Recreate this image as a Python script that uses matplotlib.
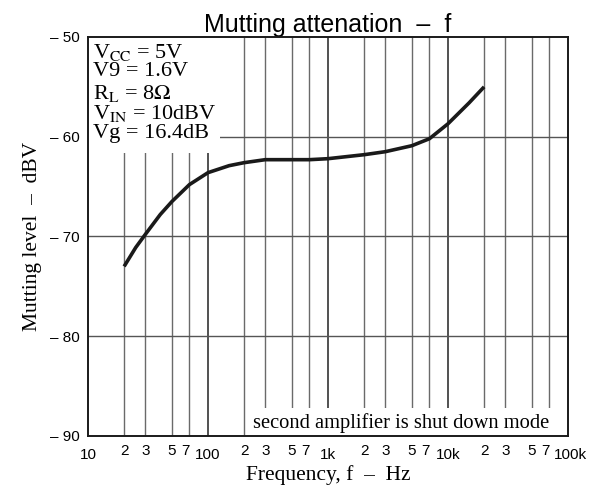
import matplotlib
matplotlib.use("Agg")
import matplotlib.pyplot as plt
import matplotlib.transforms as mtransforms
from matplotlib.patches import Rectangle

# Mutting level vs frequency
freq = [20, 25, 30, 40, 50, 70, 100, 150, 200, 300, 500, 700,
        1000, 2000, 3000, 5000, 7000, 10000, 15000, 20000]
level = [-73.0, -71.1, -69.8, -67.8, -66.5, -64.8, -63.6, -62.9, -62.6, -62.3,
         -62.3, -62.3, -62.2, -61.8, -61.5, -60.9, -60.2, -58.7, -56.6, -55.0]

decades = [10, 100, 1000, 10000, 100000]
decade_labels = ["10", "100", "1k", "10k", "100k"]
minor_steps = [2, 3, 5, 7]
y_ticks = [-90, -80, -70, -60, -50]

conditions = [r"V$_{\mathrm{CC}}$ = 5V", "V9 = 1.6V", r"R$_{\mathrm{L}}$ = 8$\Omega$",
              r"V$_{\mathrm{IN}}$ = 10dBV", "Vg = 16.4dB"]
note = "second amplifier is shut down mode"

plt.rcParams["font.family"] = ["Liberation Sans", "DejaVu Sans"]
plt.rcParams["mathtext.fontset"] = "stix"
serif = ["Liberation Serif", "DejaVu Serif"]

fig = plt.figure(figsize=(5.95, 4.88), dpi=100)
ax = fig.add_axes([0.1479, 0.1066, 0.8067, 0.8176])
ax.set_xscale("log")
ax.set_xlim(10, 100000)
ax.set_ylim(-90, -50)

# grid: decades a bit darker than the 2/3/5/7 lines
minor_pos = [d * m for d in decades[:-1] for m in minor_steps]
for x in decades[1:-1]:
    ax.axvline(x, color="#222222", lw=1.1, zorder=1)
for x in minor_pos:
    ax.axvline(x, color="#6a6a6a", lw=1.0, zorder=1)
for y in y_ticks[1:-1]:
    ax.axhline(y, color="#555555", lw=1.0, zorder=1)

# white areas behind the texts
ax.add_patch(Rectangle((10, -61.6), 115, 11.6, facecolor="white", edgecolor="none", zorder=2))
ax.add_patch(Rectangle((225, -90), 100000 - 225, 2.8, facecolor="white", edgecolor="none", zorder=2))

ax.plot(freq, level, color="#1a1a1a", lw=2.6, zorder=3, solid_capstyle="butt")

for spine in ax.spines.values():
    spine.set_linewidth(1.4)
    spine.set_color("#1a1a1a")
    spine.set_zorder(4)

ax.set_xticks(decades)
ax.set_xticklabels(decade_labels)
ax.set_xticks(minor_pos, minor=True)
ax.set_xticklabels([str(m) for d in decades[:-1] for m in minor_steps], minor=True)
ax.tick_params(axis="x", which="major", length=0, pad=9, labelsize=11)
ax.tick_params(axis="x", which="minor", length=0, pad=6, labelsize=11)
ax.set_yticks(y_ticks)
ax.set_yticklabels(["\u2013 " + str(-v) for v in y_ticks])
ax.tick_params(axis="y", length=0, pad=6, labelsize=11)

# squeeze "7" and the decade label apart a little, as in the original
nudge_left = mtransforms.ScaledTranslation(-3 / 72, 0, fig.dpi_scale_trans)
nudge_right = mtransforms.ScaledTranslation(2 / 72, 0, fig.dpi_scale_trans)
for lab in ax.get_xticklabels(minor=True):
    if lab.get_text() == "7":
        lab.set_transform(lab.get_transform() + nudge_left)
for lab in ax.get_xticklabels():
    if lab.get_text() == "100k":
        lab.set_transform(lab.get_transform() + nudge_right)

ax.set_title("Mutting attenation  \u2013  f", fontsize=18, pad=3)
ax.set_xlabel("Frequency, f  \u2013  Hz", family=serif, fontsize=15.5, labelpad=2)
ax.set_ylabel("Mutting level  \u2013  dBV", family=serif, fontsize=15.5, labelpad=6)

for i, line in enumerate(conditions):
    ax.text(0.01, 0.988 - i * 0.0514, line, transform=ax.transAxes, family=serif,
            fontsize=16, va="top", ha="left", zorder=5)

ax.text(0.96, 0.008, note, transform=ax.transAxes, family=serif, fontsize=14.8,
        va="bottom", ha="right", zorder=5)

fig.savefig("out.png", dpi=100)
